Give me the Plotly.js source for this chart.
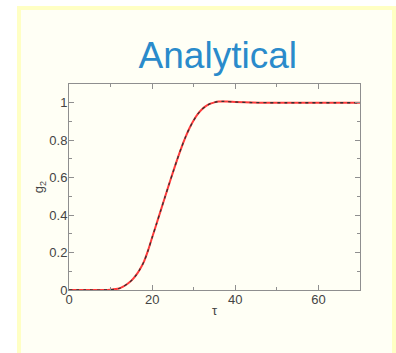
<!DOCTYPE html>
<html>
<head>
<meta charset="utf-8">
<script src="https://cdn.plot.ly/plotly-3.0.1.min.js"></script>
<style>html,body{margin:0;padding:0;background:#fff;}#chart{width:396px;height:353px;}</style>
</head>
<body>
<div id="chart"></div>
<script>
// Curve (g2 vs tau)
var tau = [0, 4, 8, 10, 12, 13, 14, 15, 16, 17, 18, 19, 20, 21, 22, 23, 24, 25, 26, 27, 28, 29, 30, 31, 32, 33, 34, 35, 36, 37, 38, 40, 44, 48, 52, 56, 60, 64, 70];
var g2  = [0, 0, 0, 0.002, 0.008, 0.018, 0.032, 0.05, 0.075, 0.108, 0.15, 0.21, 0.28, 0.35, 0.42, 0.49, 0.56, 0.628, 0.695, 0.758, 0.815, 0.865, 0.906, 0.94, 0.965, 0.983, 0.995, 1.002, 1.006, 1.007, 1.006, 1.004, 1.001, 1.0, 1.0, 1.0, 1.0, 1.0, 1.0];
var xTicks = [0, 20, 40, 60];
var yTicks = [0, 0.2, 0.4, 0.6, 0.8, 1];
var yTickText = ['0', '0.2', '0.4', '0.6', '0.8', '1'];

var font = 'Liberation Sans, Arial, Helvetica, sans-serif';
var traces = [
  {x: tau, y: g2, mode: 'lines', line: {color: '#ff3b3b', width: 2, shape: 'spline', smoothing: 0.8}, hoverinfo: 'skip'},
  {x: tau, y: g2, mode: 'lines', line: {color: '#333333', width: 1.3, dash: '3px,4px', shape: 'spline', smoothing: 0.8}, hoverinfo: 'skip'}
];
var axisCommon = {
  showline: true, linecolor: '#8f8f8f', linewidth: 1, mirror: 'ticks',
  ticks: 'inside', ticklen: 5, tickcolor: '#8f8f8f', tickwidth: 1,
  showgrid: false, zeroline: false,
  tickfont: {family: font, size: 13, color: '#444'}
};
var layout = {
  width: 396, height: 353,
  margin: {l: 69, r: 36, t: 84, b: 63},
  paper_bgcolor: '#ffffff', plot_bgcolor: 'rgba(0,0,0,0)',
  showlegend: false,
  title: {text: 'Analytical', font: {family: font, size: 37, color: '#2a8bcb'},
          xref: 'container', yref: 'container', x: 0.55, xanchor: 'center', y: 0.845, yanchor: 'middle'},
  xaxis: Object.assign({}, axisCommon, {
    range: [0, 70], tickvals: xTicks, ticklabelstandoff: -3,
    minor: {dtick: 10, ticks: 'inside', ticklen: 3, tickcolor: '#8f8f8f'},
    title: {text: 'τ', font: {family: font, size: 13, color: '#444'}, standoff: 0}
  }),
  yaxis: Object.assign({}, axisCommon, {
    range: [0, 1.1], tickvals: yTicks, ticktext: yTickText, ticklabelstandoff: -2,
    minor: {dtick: 0.1, ticks: 'inside', ticklen: 3, tickcolor: '#8f8f8f'},
    title: {text: 'g<sub>2</sub>', font: {family: font, size: 13, color: '#444'}, standoff: 2}
  }),
  shapes: [{
    type: 'rect', xref: 'paper', yref: 'paper', layer: 'below',
    x0: -0.1718, x1: 1.1168, y0: -0.34, y1: 1.369,
    fillcolor: '#fffff5', line: {color: '#ffffc4', width: 4}
  }]
};
Plotly.newPlot('chart', traces, layout, {displayModeBar: false, staticPlot: true});
</script>
</body>
</html>
